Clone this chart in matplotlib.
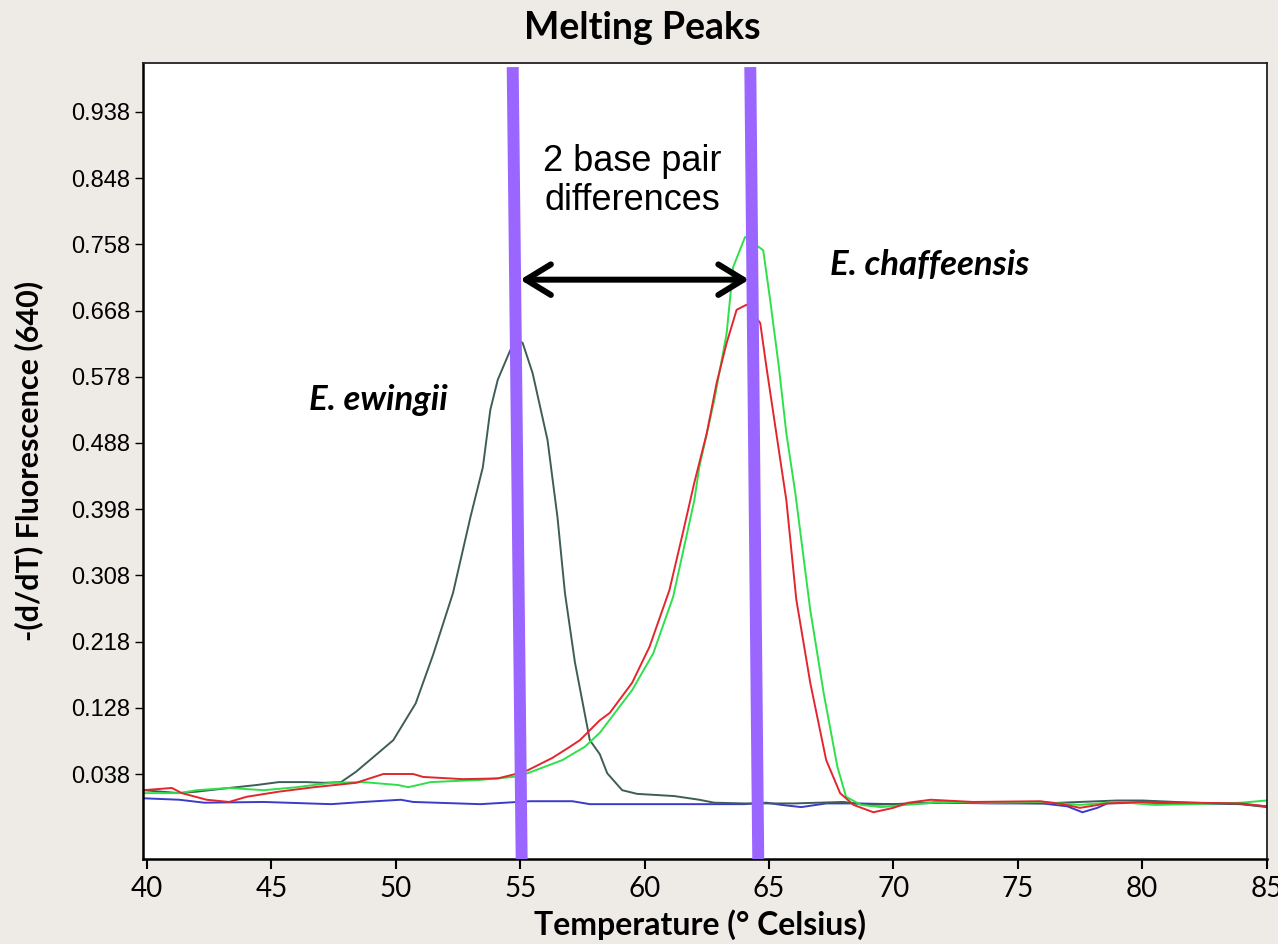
import matplotlib
matplotlib.use('Agg')
import matplotlib.pyplot as plt
import numpy as np

# Melting peak curves (temperature in deg C, -(d/dT) fluorescence)

ewingii_t = [39.85, 41.3, 42.0, 43.3, 44.4, 45.3, 46.4, 47.1, 47.8, 48.4, 49.1, 49.9,
             50.8, 51.5, 52.3, 53.0, 53.5, 53.8, 54.1, 54.6, 54.9, 55.1, 55.5, 56.1,
             56.5, 56.8, 57.2, 57.8, 58.2, 58.5, 59.1, 59.7, 61.2, 62.2, 62.8, 64.0,
             66.0, 68.0, 69.0, 70.0, 72.0, 74.0, 76.0, 77.5, 79.0, 80.0, 82.0, 84.0, 85.0]
ewingii_v = [0.016, 0.012, 0.014, 0.019, 0.023, 0.027, 0.027, 0.026, 0.027, 0.041, 0.061, 0.084,
             0.134, 0.200, 0.284, 0.387, 0.455, 0.533, 0.574, 0.614, 0.628, 0.624, 0.583, 0.492,
             0.387, 0.284, 0.190, 0.084, 0.065, 0.039, 0.016, 0.011, 0.008, 0.003, -0.001, -0.002,
             -0.002, 0.000, -0.004, -0.003, 0.000, -0.001, -0.002, 0.000, 0.002, 0.002, -0.001, -0.003, -0.007]

red_t = [39.85, 41.0, 41.4, 42.4, 43.3, 44.0, 45.3, 46.7, 48.4, 49.5, 50.7, 51.1, 52.7,
         54.1, 54.7, 55.3, 56.3, 57.0, 57.4, 58.2, 58.6, 59.5, 60.2, 61.0, 61.5, 62.0,
         62.5, 62.9, 63.3, 63.7, 64.1, 64.65, 64.9, 65.2, 65.5, 65.7, 66.1, 66.66, 67.3,
         67.86, 68.4, 69.2, 70.0, 70.6, 71.5, 73.2, 75.9, 76.8, 77.5, 78.6, 80.0, 82.0, 84.0, 85.0]
red_v = [0.016, 0.019, 0.012, 0.003, 0.000, 0.007, 0.014, 0.020, 0.026, 0.038, 0.038, 0.034, 0.031,
         0.032, 0.037, 0.043, 0.060, 0.075, 0.084, 0.111, 0.121, 0.162, 0.211, 0.288, 0.360, 0.434,
         0.501, 0.570, 0.624, 0.669, 0.676, 0.651, 0.591, 0.523, 0.455, 0.410, 0.275, 0.162, 0.057,
         0.012, -0.004, -0.014, -0.008, -0.001, 0.003, 0.000, 0.001, -0.003, -0.008, -0.002, 0.000, -0.001, -0.002, -0.006]

green_t = [39.85, 41.3, 42.0, 43.3, 44.7, 46.0, 47.4, 48.7, 50.1, 50.5, 51.4, 53.4, 54.7,
           55.3, 56.0, 56.7, 57.6, 58.2, 59.5, 60.35, 61.15, 62.0, 62.2, 62.8, 63.3, 63.56,
           64.04, 64.77, 65.05, 65.4, 65.7, 66.06, 66.66, 67.2, 67.75, 68.1, 68.7, 69.5,
           70.5, 72.0, 74.0, 76.0, 77.5, 79.0, 80.5, 82.0, 84.0, 85.0]
green_v = [0.012, 0.012, 0.016, 0.019, 0.016, 0.020, 0.026, 0.027, 0.023, 0.020, 0.027, 0.030, 0.034,
           0.039, 0.048, 0.057, 0.075, 0.094, 0.152, 0.202, 0.279, 0.410, 0.455, 0.546, 0.637, 0.727,
           0.768, 0.750, 0.682, 0.591, 0.501, 0.420, 0.261, 0.148, 0.048, 0.007, -0.004, -0.007,
           -0.004, 0.000, -0.001, 0.000, -0.004, 0.000, -0.004, -0.003, -0.001, 0.002]

blue_t = [39.85, 41.3, 42.3, 44.7, 47.4, 48.7, 50.2, 50.7, 53.4, 55.4, 57.1, 57.8, 60.0,
          62.0, 64.0, 64.9, 65.5, 66.3, 67.3, 68.5, 70.0, 72.0, 74.0, 76.0, 77.0, 77.6,
          78.2, 78.6, 80.0, 82.0, 84.0, 85.0]
blue_v = [0.005, 0.003, -0.001, 0.000, -0.003, 0.000, 0.003, 0.000, -0.003, 0.001, 0.001, -0.003, -0.003,
          -0.003, -0.003, -0.001, -0.004, -0.007, -0.002, -0.002, -0.003, -0.001, -0.002, -0.002, -0.006, -0.014,
          -0.008, -0.002, -0.001, -0.002, -0.003, -0.006]

# purple marker lines (slightly slanted in the original): temperature at top and bottom
marker_top_t = [54.70, 64.25]
marker_bottom_t = [55.06, 64.57]
arrow_t = [55.0, 64.2]
arrow_v = 0.71

y_ticks = [0.038, 0.128, 0.218, 0.308, 0.398, 0.488, 0.578, 0.668, 0.758, 0.848, 0.938]
x_ticks = [40, 45, 50, 55, 60, 65, 70, 75, 80, 85]

bg = '#eeeae6'
fig = plt.figure(figsize=(12.78, 9.44), dpi=100, facecolor=bg)
ax = fig.add_axes([0.1119, 0.0900, 0.8795, 0.8433])
ax.set_facecolor('white')

ax.plot(blue_t, blue_v, color='#3b3bc8', lw=1.4)
ax.plot(ewingii_t, ewingii_v, color='#3f5d58', lw=1.4)
ax.plot(green_t, green_v, color='#2ee04a', lw=1.4)
ax.plot(red_t, red_v, color='#e3262e', lw=1.4)

ax.set_xlim(39.84, 85.02)
ax.set_ylim(-0.0776, 1.0046)

for t0, t1 in zip(marker_top_t, marker_bottom_t):
    ax.plot([t0, t1], [0.999, -0.0776], color='#9b66ff', lw=8.6, solid_capstyle='butt', zorder=5)

ax.annotate('', xy=(arrow_t[1], arrow_v), xytext=(arrow_t[0], arrow_v),
            arrowprops=dict(arrowstyle='<->,head_length=0.9,head_width=0.55', lw=4.3,
                            color='black', mutation_scale=20, shrinkA=0, shrinkB=0),
            zorder=6)

ax.text(59.5, 0.844, '2 base pair\ndifferences', ha='center', va='center',
        fontsize=26, family='Liberation Sans', linespacing=1.17)
ax.text(67.46, 0.730, 'E. chaffeensis', ha='left', va='center', fontsize=25,
        family='Lato', weight='bold', style='italic')
ax.text(46.5, 0.546, 'E. ewingii', ha='left', va='center', fontsize=25,
        family='Lato', weight='bold', style='italic')

ax.set_yticks(y_ticks)
ax.set_yticklabels(['%.3f' % v for v in y_ticks], family='Liberation Sans', fontsize=17)
ax.set_xticks(x_ticks)
ax.set_xticklabels([str(v) for v in x_ticks], family='Lato', fontsize=20)
ax.tick_params(axis='y', length=6, width=1, pad=3)
ax.tick_params(axis='x', length=7, width=1.5, pad=5)

for side in ['left', 'bottom']:
    ax.spines[side].set_linewidth(1.8)
for side in ['top', 'right']:
    ax.spines[side].set_linewidth(1.3)
    ax.spines[side].set_color('#222222')

ax.text(0.444, 1.044, 'Melting Peaks', transform=ax.transAxes, ha='center', va='center',
        fontsize=27, family='Lato', weight='bold')
ax.set_xlabel('Temperature (° Celsius)', family='Lato', weight='bold', fontsize=23)
ax.xaxis.set_label_coords(0.4955, -0.083)
ax.set_ylabel('-(d/dT) Fluorescence (640)', family='Lato', weight='bold', fontsize=22)
ax.yaxis.set_label_coords(-0.102, 0.50)
ax.xaxis.label.set_va('center')
ax.yaxis.label.set_va('center')

fig.savefig('out.png', dpi=100, facecolor=bg)
